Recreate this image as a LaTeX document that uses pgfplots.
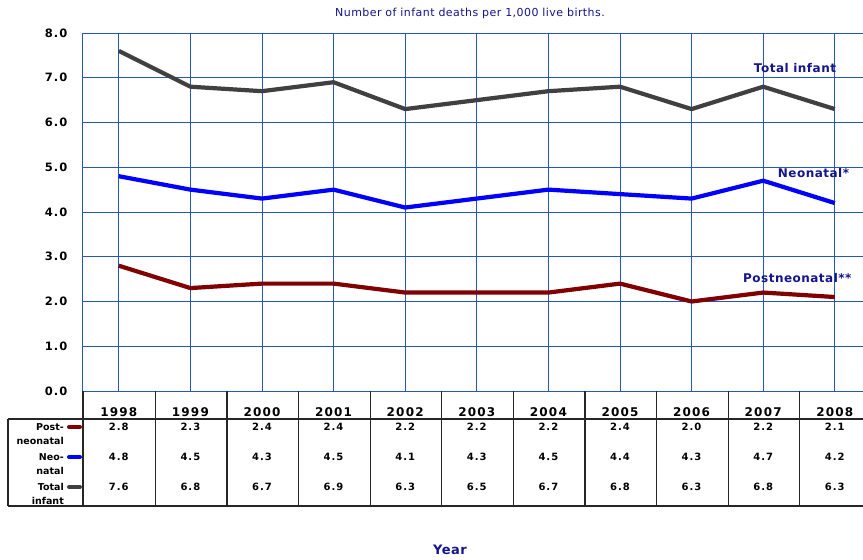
\documentclass[border=0pt]{standalone}
\usepackage{pgfplots}
\pgfplotsset{compat=1.18}
\usepackage{pgfplotstable}
\usepackage{fontspec}
\setmainfont{DejaVu Sans}
\newfontfamily\vbs[LetterSpace=10]{DejaVu Sans}
\newfontfamily\vbl[LetterSpace=4]{DejaVu Sans}
\definecolor{gridblue}{HTML}{2455C3}
\definecolor{navy}{HTML}{14148C}
\definecolor{totalc}{HTML}{404040}
\definecolor{neoc}{HTML}{0000FF}
\definecolor{postc}{HTML}{800000}
\pgfplotstableread{
x year post neo total
0 1998 2.8 4.8 7.6
1 1999 2.3 4.5 6.8
2 2000 2.4 4.3 6.7
3 2001 2.4 4.5 6.9
4 2002 2.2 4.1 6.3
5 2003 2.2 4.3 6.5
6 2004 2.2 4.5 6.7
7 2005 2.4 4.4 6.8
8 2006 2.0 4.3 6.3
9 2007 2.2 4.7 6.8
10 2008 2.1 4.2 6.3
}\datatable
\begin{document}
\begin{tikzpicture}
\useasboundingbox (-83pt,-169pt) rectangle (780pt,391pt);
\begin{axis}[
  at={(0pt,0pt)}, anchor=south west,
  scale only axis, width=785pt, height=358pt,
  xmin=-0.5, xmax=10.4637, ymin=0, ymax=8,
  clip=false,
  axis line style={gridblue, line width=1pt},
  grid=major,
  major grid style={gridblue, line width=0.9pt},
  major tick length=0pt,
  xtick={0,...,10},
  xticklabels={1998,1999,2000,2001,2002,2003,2004,2005,2006,2007,2008},
  xticklabel style={anchor=center, yshift=-21pt, font=\vbs\bfseries\fontsize{12}{14}\selectfont, text=black},
  ytick={0,1,...,8},
  yticklabel style={anchor=east, xshift=-12pt, font=\vbs\bfseries\fontsize{11.5}{13}\selectfont, text=black,
    /pgf/number format/.cd, fixed, fixed zerofill, precision=1, assume math mode=true},
]
\addplot[color=totalc, line width=4.2pt, line join=round] table[x=x, y=total]{\datatable};
\addplot[color=neoc, line width=4.2pt, line join=round] table[x=x, y=neo]{\datatable};
\addplot[color=postc, line width=4.2pt, line join=round] table[x=x, y=post]{\datatable};
% table values
\addplot[draw=none, nodes near coords, point meta=explicit,
  nodes near coords={\pgfmathprintnumber[fixed,fixed zerofill,precision=1,assume math mode=true]{\pgfplotspointmeta}},
  every node near coord/.style={anchor=center, yshift=-36pt, font=\vbs\bfseries\fontsize{10}{12}\selectfont, text=black}]
  table[x=x, y expr=0, meta=post]{\datatable};
\addplot[draw=none, nodes near coords, point meta=explicit,
  nodes near coords={\pgfmathprintnumber[fixed,fixed zerofill,precision=1,assume math mode=true]{\pgfplotspointmeta}},
  every node near coord/.style={anchor=center, yshift=-66pt, font=\vbs\bfseries\fontsize{10}{12}\selectfont, text=black}]
  table[x=x, y expr=0, meta=neo]{\datatable};
\addplot[draw=none, nodes near coords, point meta=explicit,
  nodes near coords={\pgfmathprintnumber[fixed,fixed zerofill,precision=1,assume math mode=true]{\pgfplotspointmeta}},
  every node near coord/.style={anchor=center, yshift=-96pt, font=\vbs\bfseries\fontsize{10}{12}\selectfont, text=black}]
  table[x=x, y expr=0, meta=total]{\datatable};
\end{axis}
% data table grid
\begin{scope}[black!85, line width=1.1pt]
\draw (0pt,0pt) -- (0pt,-115pt);
\foreach \k in {0,...,9} {\draw ({72.4pt+71.6pt*\k},0pt) -- ({72.4pt+71.6pt*\k},-115pt);}
\draw (-75pt,-28pt) -- (785pt,-28pt);
\draw (-75pt,-115pt) -- (785pt,-115pt);
\draw (-75pt,-28pt) -- (-75pt,-115pt);
\end{scope}
% legend keys
\draw[postc, line width=4pt, line cap=round] (-14pt,-36pt) -- (-3pt,-36pt);
\draw[neoc, line width=4pt, line cap=round] (-14pt,-66pt) -- (-3pt,-66pt);
\draw[totalc, line width=4pt, line cap=round] (-14pt,-96pt) -- (-3pt,-96pt);
\begin{scope}[every node/.style={anchor=east, align=right, inner sep=0pt, font=\bfseries\fontsize{9.5}{14}\selectfont}]
\node at (-19pt,-43pt) {Post-\\neonatal};
\node at (-19pt,-73pt) {Neo-\\natal};
\node at (-19pt,-103pt) {Total\\infant};
\end{scope}
% series labels
\begin{scope}[every node/.style={inner sep=0pt, text=navy, font=\vbl\bfseries\fontsize{12}{14}\selectfont}]
\node at (712pt,323pt) {Total infant};
\node at (730.5pt,218.3pt) {Neonatal*};
\node[anchor=west] at (660pt,113pt) {Postneonatal**};
\end{scope}
% title and axis label
\node[text=navy, font=\vbl\fontsize{11}{13}\selectfont] at (387pt,378pt) {Number of infant deaths per 1,000 live births.};
\node[text=navy, font=\vbl\bfseries\fontsize{13}{15}\selectfont] at (367pt,-159pt) {Year};
\end{tikzpicture}
\end{document}
